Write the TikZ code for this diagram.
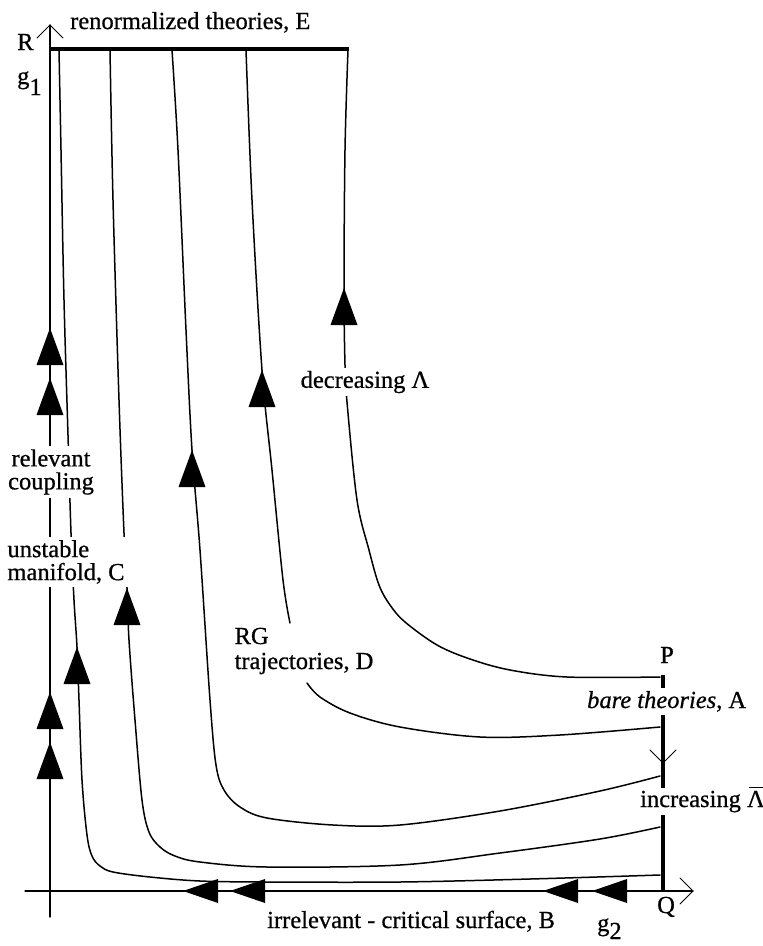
\documentclass[tikz,border=0pt]{standalone}
\usepackage{fontspec}
\setmainfont[FakeBold=0.7]{Liberation Serif}
\newcommand{\barLam}{\ooalign{Λ\cr\hidewidth\rule[0.76em]{0.55em}{1.3pt}\hidewidth\cr}}
\begin{document}
\begin{tikzpicture}[x=1pt,y=-1pt,line join=round,line cap=round,
  traj/.style={line width=1.5pt},
  boldline/.style={line width=4pt,line cap=butt},
  axisline/.style={line width=1.3pt},
  chev/.style={line width=1pt},
  lbl/.style={font=\fontsize{24.5}{25}\selectfont,inner sep=0pt},
  gaplbl/.style={lbl,fill=white,inner sep=3pt},
  uptri/.pic={\fill (0,0) -- (-13.5,37) -- (13.5,37) -- cycle;},
  lefttri/.pic={\fill (0,0) -- (35,-12) -- (35,12) -- cycle;}]
\useasboundingbox (0,0) rectangle (763,946);

% axes
\draw[axisline] (50,917) -- (50,25);
\draw[chev] (37,38) -- (50,25) -- (63,38);
\draw[axisline] (25,891) -- (693,891);
\draw[chev] (680,878) -- (693,891) -- (680,904);

% renormalized theories line E
\draw[boldline] (50,49) -- (349,49);
% bare theories line P-Q
\draw[boldline] (663,675) -- (663,891);
\draw[chev] (650,750) -- (663,763) -- (676,750);

% trajectories
\draw[traj] plot[smooth,tension=0.55] coordinates {(59,50) (61,150) (64,300) (68,435) (71,533) (74,600) (77,647) (79,700) (82,780) (87,835) (92,856) (100,866) (113,872) (150,877) (200,881) (267,882) (400,882) (530,879) (660,875)};
\draw[traj] plot[smooth,tension=0.55] coordinates {(110,50) (113,200) (119,400) (124,533) (127,588) (129,640) (135,720) (142,800) (149,832) (160,847) (175,856) (200,862) (267,867) (400,865) (500,853) (600,839) (660,827)};
\draw[traj] plot[smooth,tension=0.55] coordinates {(172,50) (178,150) (186,330) (192,450) (200,550) (210,700) (216,765) (224,790) (240,807) (267,818) (333,825) (400,825) (500,811) (600,791) (660,776)};
\draw[traj] plot[smooth,tension=0.55] coordinates {(246,50) (252,200) (262,370) (272,470) (283,580) (290,623)};
\draw[traj] plot[smooth,tension=0.55] coordinates {(307,683) (320,697) (350,713) (400,727) (480,737) (560,735) (660,727)};
\draw[traj] plot[smooth,tension=0.55] coordinates {(348,50) (345,150) (344,288) (345,365) (347,402) (357,500) (369,550) (379,585) (390,605) (405,622) (437,645) (470,659) (510,670) (567,677) (660,677)};

% arrowheads
\pic at (50,328) {uptri};
\pic at (50,378) {uptri};
\pic at (50,692) {uptri};
\pic at (50,742) {uptri};
\pic at (77,647) {uptri};
\pic at (127,588) {uptri};
\pic at (192,450) {uptri};
\pic at (262,370) {uptri};
\pic at (344,288) {uptri};
\pic at (183,891) {lefttri};
\pic at (230,891) {lefttri};
\pic at (543,891) {lefttri};
\pic at (592,891) {lefttri};

% labels
\node[lbl,anchor=base west] (E) at (70,29) {renormalized theories, E};
\node[lbl,anchor=base west] (R) at (17,50) {R};
\node[lbl,anchor=base west] (g1) at (17,84) {g\raisebox{-11pt}{1}};
\node[gaplbl,align=center,font=\fontsize{24.5}{23}\selectfont] (rel) at (51,472) {relevant\\coupling};
\node[gaplbl,align=left,font=\fontsize{24.5}{23}\selectfont,inner xsep=4pt] (unst) at (66,562) {unstable\\manifold, C};
\node[gaplbl] (dec) at (365,382) {decreasing Λ};
\node[gaplbl,align=left,font=\fontsize{24.5}{25}\selectfont] (rg) at (304,651) {RG\\trajectories, D};
\node[lbl,anchor=base west] (P) at (660,663) {P};
\node[gaplbl,anchor=base west] (A) at (584,708) {\itshape bare theories\upshape, A};
\node[gaplbl,anchor=base west] (inc) at (637,807) {increasing \barLam};
\node[lbl,anchor=base west] (Q) at (657,913) {Q};
\node[lbl,anchor=base west] (g2) at (597,931) {g\raisebox{-8pt}{2}};
\node[lbl,anchor=base west] (B) at (267,928) {irrelevant - critical surface, B};
\end{tikzpicture}
\end{document}
